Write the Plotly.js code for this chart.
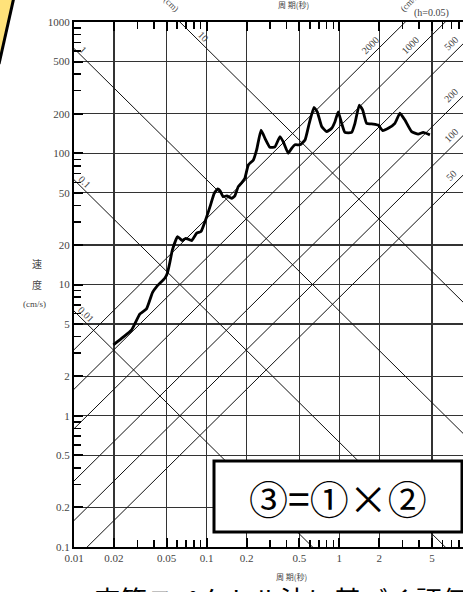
<!DOCTYPE html>
<html><head><meta charset="utf-8">
<script src="https://cdn.plot.ly/plotly-3.0.1.min.js"></script>
<style>
html,body{margin:0;padding:0;overflow:hidden;background:#fff;width:463px;height:592px}
#chart{width:482px;height:592px}
</style>
</head><body><div id="chart"></div>
<script>
// Response spectrum (h=0.05): period (s) vs pseudo velocity (cm/s)
const periods = [0.0198,0.0235,0.0272,0.0314,0.0352,0.0391,0.0420,0.0485,0.0507,0.0529,0.0551,0.0604,0.0655,0.0695,0.0771,0.0841,0.0906,0.0971,0.106,0.114,0.121,0.126,0.133,0.142,0.154,0.163,0.173,0.184,0.194,0.206,0.225,0.238,0.257,0.275,0.300,0.327,0.357,0.378,0.412,0.437,0.463,0.505,0.551,0.593,0.644,0.682,0.736,0.802,0.875,0.927,0.981,1.041,1.102,1.238,1.311,1.413,1.498,1.606,1.801,1.964,2.120,2.337,2.624,2.862,3.121,3.506,3.932,4.289,4.816];
const velocity = [3.47,3.97,4.51,5.97,6.52,8.71,9.64,11.2,12.3,14.9,18.3,23.2,21.6,22.5,21.6,24.6,25.3,30.1,39.2,49.5,53.5,51.9,46.7,47.3,45.4,47.3,55.7,59.7,64.5,81.4,88.9,106,150,130,111,112,134,122,100,109,116,116,126,169,224,207,160,146,155,174,207,169,144,144,169,233,214,169,167,164,149,155,169,202,179,146,140,144,138];

const dispLevels = [0.01, 0.1, 1, 10];            // cm
const dispLabels = ['0.01', '0.1', '1', '10'];
const dispLabelPeriods = [0.0123, 0.0121, 0.0117, 0.0938];
const accLevels = [50, 100, 200, 500, 1000, 2000]; // cm/s^2
const accLabels = ['50', '100', '200', '500', '1000', '2000'];
const accLabelPeriods = [6.95, 6.95, 6.95, 6.95, 3.40, 1.70];

const xTicks = [0.01,0.02,0.05,0.1,0.2,0.5,1,2,5];
const xTickText = ['0.01','0.02','0.05','0.1','0.2','0.5','1','2','5'];
const yTicks = [0.1,0.2,0.5,1,2,5,10,20,50,100,200,500,1000];
const yTickText = ['0.1','0.2','0.5','1','2','5','10','20','50','100','200','500','1000'];
const xMinor = [0.03,0.04,0.06,0.07,0.08,0.09,0.3,0.4,0.6,0.7,0.8,0.9,3,4,6,7,8,9];
const yMinor = [0.3,0.4,0.6,0.7,0.8,0.9,3,4,6,7,8,9,30,40,60,70,80,90,300,400,600,700,800,900];

const TWO_PI = 2 * Math.PI;
const lineX = [0.005, 20];
const traces = [];
dispLevels.forEach(d => traces.push({x: lineX, y: lineX.map(t => TWO_PI * d / t), mode: 'lines',
  line: {color: '#111', width: 1}, hoverinfo: 'skip', showlegend: false}));
accLevels.forEach(a => traces.push({x: lineX, y: lineX.map(t => a * t / TWO_PI), mode: 'lines',
  line: {color: '#111', width: 1}, hoverinfo: 'skip', showlegend: false}));
traces.push({x: periods, y: velocity, mode: 'lines', line: {color: '#000', width: 2.8, shape: 'spline', smoothing: 0.4},
  showlegend: false});

// pixel -> paper helpers (plot area: x 74..472, y 22..547)
const L = 74, R = 472, T = 22, B = 547;
const px = x => (x - L) / (R - L);
const py = y => (B - y) / (B - T);

const serif = 'Liberation Serif, DejaVu Serif, serif';
const cjk = 'Noto Sans CJK JP, sans-serif';
const annotations = [];
dispLevels.forEach((d, i) => annotations.push({x: Math.log10(dispLabelPeriods[i]), y: Math.log10(TWO_PI * d / dispLabelPeriods[i]),
  xref: 'x', yref: 'y', text: dispLabels[i], showarrow: false, textangle: 45, yshift: 8,
  font: {family: serif, size: 10, color: '#444'}}));
accLevels.forEach((a, i) => annotations.push({x: Math.log10(accLabelPeriods[i]), y: Math.log10(a * accLabelPeriods[i] / TWO_PI),
  xref: 'x', yref: 'y', text: accLabels[i], showarrow: false, textangle: -45, yshift: 12,
  font: {family: serif, size: 10, color: '#444'}}));

function note(text, x, y, size, family, extra) {
  annotations.push(Object.assign({text, x: px(x), y: py(y), xref: 'paper', yref: 'paper', showarrow: false,
    xanchor: 'center', yanchor: 'middle', font: {family, size, color: '#444'}}, extra || {}));
}
note('速', 37, 263, 10, cjk);
note('度', 37, 284, 10, cjk);
note('(cm/s)', 34, 304, 9, serif);
note('周 期(秒)', 291, 576, 8, cjk);
note('周 期(秒)', 293, 5, 8, cjk);
note('(h=0.05)', 431, 13, 10, serif);
note('(cm)', 171, 4, 9, serif, {textangle: 45});
note('(cm/s²)', 411, 1, 9, serif, {textangle: -45});
note('③=①×②', 338, 497, 39, cjk, {font: {family: cjk, size: 39, color: '#000'}});
note('応答スペクトル法に基づく評価', 91, 599, 27, cjk, {xanchor: 'left', font: {family: cjk, size: 27, color: '#000'}});

const shapes = [
  {type: 'path', xref: 'paper', yref: 'paper',
   path: `M ${px(-5)},${py(-5)} L ${px(14)},${py(-5)} L ${px(0)},${py(62)} L ${px(-5)},${py(62)} Z`,
   fillcolor: '#FFE27A', line: {width: 0}, layer: 'above'},
  {type: 'line', xref: 'paper', yref: 'paper', x0: px(14), y0: py(-3), x1: px(-1), y1: py(64),
   line: {color: '#000', width: 3}, layer: 'above'},
  {type: 'rect', xref: 'paper', yref: 'paper', x0: px(214), y0: py(532), x1: px(462), y1: py(461),
   fillcolor: '#fff', line: {color: '#000', width: 3}, layer: 'above'}
];

const axisCommon = {
  type: 'log', showline: true, linecolor: '#000', linewidth: 2, mirror: 'ticks',
  ticks: 'inside', ticklen: 9, tickwidth: 2, tickcolor: '#000',
  showgrid: true, gridcolor: '#333', gridwidth: 1.4, zeroline: false,
  tickfont: {family: serif, size: 11, color: '#444'}
};
const layout = {
  width: 482, height: 592,
  margin: {l: L, r: 482 - R, t: T, b: 592 - B},
  paper_bgcolor: '#fff', plot_bgcolor: '#fff',
  xaxis: Object.assign({}, axisCommon, {range: [-2, 1], tickmode: 'array', tickvals: xTicks, ticktext: xTickText,
    minor: {tickmode: 'array', tickvals: xMinor, ticks: 'inside', ticklen: 7, tickwidth: 1.5, tickcolor: '#000', showgrid: false}}),
  yaxis: Object.assign({}, axisCommon, {range: [-1, 3], tickmode: 'array', tickvals: yTicks, ticktext: yTickText,
    minor: {tickmode: 'array', tickvals: yMinor, ticks: 'inside', ticklen: 7, tickwidth: 1.5, tickcolor: '#000', showgrid: false}}),
  shapes, annotations
};
Plotly.newPlot('chart', traces, layout, {staticPlot: true, displayModeBar: false});
</script>
</body></html>
